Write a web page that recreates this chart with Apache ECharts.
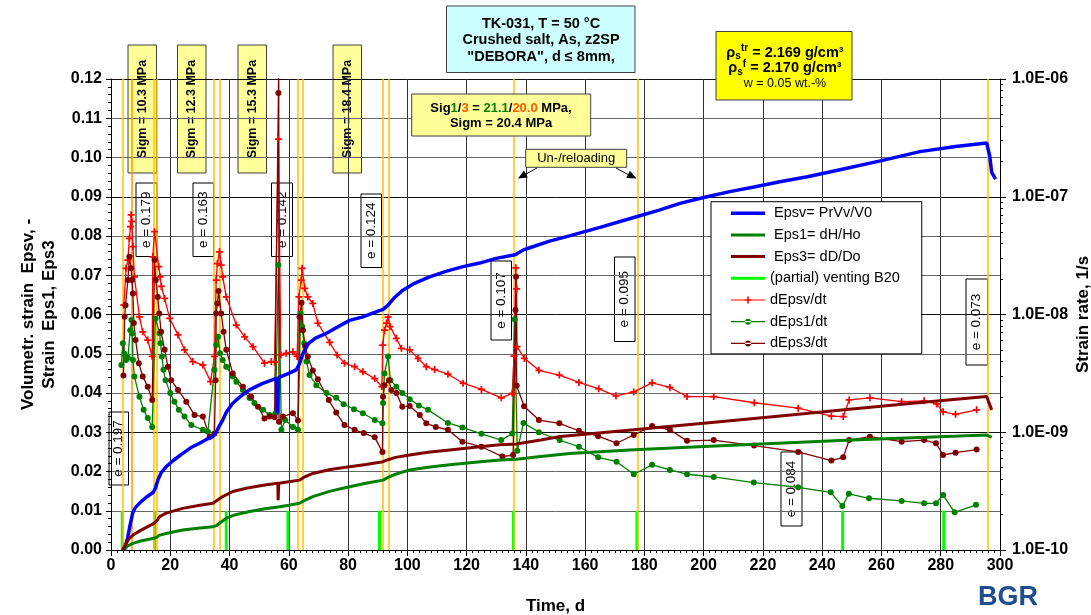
<!DOCTYPE html>
<html>
<head>
<meta charset="utf-8">
<script src="https://cdn.jsdelivr.net/npm/echarts@6/dist/echarts.min.js"></script>
<style>
  html, body { margin: 0; padding: 0; background: #fff; }
  #chart { width: 1091px; height: 615px; }
</style>
</head>
<body>
<div id="chart"></div>
<script>
const FONT = 'Arial, "Liberation Sans", sans-serif';

// ---- Strain curves: [time d, strain -] ----
const epsv = [[4.0,0],[4.8,0.001],[5.6,0.003],[6.4,0.0062],[7.3,0.0094],[8.2,0.0108],[10,0.0122],[12,0.0135],[14.3,0.0147],[15.0,0.0158],[15.8,0.0178],[17,0.0198],[18.6,0.0212],[21,0.0228],[24.2,0.0246],[27,0.0261],[29.9,0.0272],[32,0.0281],[34.4,0.0289],[35.5,0.0300],[36.5,0.0315],[37.7,0.0331],[39,0.0352],[41.1,0.0374],[43.5,0.0390],[46.7,0.0408],[51,0.0424],[55.8,0.0437],[56.2,0.0348],[56.5,0.0439],[60,0.0450],[62.5,0.0459],[63.5,0.0472],[64.8,0.0501],[66.5,0.0525],[69,0.0540],[72.7,0.0552],[76,0.0566],[80.5,0.0585],[85,0.0594],[88.5,0.0604],[91.8,0.0613],[93.5,0.0624],[95.5,0.0642],[98.5,0.0662],[102,0.0678],[107.5,0.0696],[113,0.0710],[118.8,0.0722],[124.4,0.0731],[130,0.0743],[136.4,0.0752],[139,0.0764],[141.3,0.0770],[148,0.0787],[155,0.0801],[165,0.0822],[177.3,0.0849],[185,0.0866],[192,0.0883],[200,0.0898],[208.8,0.0913],[217,0.0925],[225.7,0.0938],[235,0.0951],[246,0.0969],[260,0.0992],[273,0.1015],[285,0.1028],[295.5,0.1037],[296.5,0.1005],[297.2,0.0962],[298.5,0.0945]];

const eps1 = [[4.5,0],[5.5,0.001],[7.4,0.0017],[10,0.0023],[14.5,0.0030],[15.5,0.0033],[16.5,0.0038],[18.6,0.0042],[24.2,0.0051],[30,0.0056],[34.4,0.0059],[35.5,0.0062],[36.6,0.0068],[38.9,0.0081],[42,0.0090],[46.8,0.0098],[52,0.0105],[56.9,0.0110],[60,0.0114],[63.6,0.0119],[65,0.0125],[68.1,0.0136],[74,0.0150],[80.5,0.0161],[86,0.0170],[91.8,0.0178],[93.5,0.0185],[96,0.0193],[100.8,0.0204],[107,0.0211],[114.3,0.0217],[122,0.0223],[131.2,0.0229],[136.8,0.0231],[145,0.0238],[154.8,0.0246],[175,0.0255],[200,0.0264],[225,0.0272],[250,0.0280],[275,0.0287],[295.5,0.0293],[297.2,0.0287]];

const eps3 = [[4.0,0],[5,0.0015],[6,0.0028],[7.4,0.0038],[10,0.0050],[14.5,0.0068],[15.5,0.0075],[16.4,0.0085],[18.6,0.0094],[24.2,0.0106],[30,0.0114],[34.4,0.0119],[35.5,0.0125],[37.7,0.0136],[41.1,0.0149],[46,0.0158],[52.4,0.0166],[56.3,0.0170],[56.4,0.0127],[56.6,0.0170],[60,0.0174],[63.6,0.0178],[65,0.0185],[68.1,0.0195],[74,0.0205],[80.5,0.0212],[86,0.0218],[91.8,0.0225],[93.5,0.0230],[96,0.0236],[100.8,0.0242],[107,0.0249],[114.3,0.0255],[122,0.0261],[131.2,0.0268],[136.8,0.0270],[145,0.0280],[151.6,0.0289],[160,0.0295],[180,0.0309],[200,0.0323],[225,0.0341],[250,0.0359],[275,0.0377],[295.5,0.0391],[297.2,0.0357]];

// ---- Partial venting of B20: day of each event and bar height ----
const ventDays = [3.8, 14.7, 38.9, 59.7, 90.6, 135.8, 177.5, 246.9, 281.0];
const ventHeight = 0.01;

// ---- Strain rates: [time d, rate 1/s] ----
const dEpsv = [[4.3,1.20e-8],[5.1,2.47e-8],[5.7,2.90e-8],[6.2,4.44e-8],[6.6,5.58e-8],[6.8,7.03e-8],[7.0,6.17e-8],[7.4,3.78e-8],[7.9,2.09e-8],[9.6,9.55e-9],[10.7,7.13e-9],[12.4,6.07e-9],[13.9,4.40e-9],
  [14.1,3.09e-8],[14.7,5.05e-8],[16.1,2.55e-8],[16.6,2.09e-8],[17.0,1.73e-8],[18.1,1.37e-8],[19.8,9.27e-9],[22.6,6.71e-9],[24.8,5.01e-9],[27.6,3.98e-9],[31.0,3.72e-9],[33.6,2.69e-9],
  [34.9,4.40e-9],[35.5,1.96e-8],[35.9,2.71e-8],[36.6,3.41e-8],[37.2,2.63e-8],[37.7,2.09e-8],[38.9,1.41e-8],[42.3,8.13e-9],[45.1,6.46e-9],[47.9,5.33e-9],[51.8,3.86e-9],[54.1,3.98e-9],[55.2,3.95e-9],
  [56.5,3.09e-7],[57.3,4.53e-9],[59.1,4.68e-9],[61.4,4.82e-9],[62.8,4.40e-9],
  [63.4,1.41e-8],[64.2,1.96e-8],[64.5,2.47e-8],[65.4,1.67e-8],[66.4,1.41e-8],[68.1,1.24e-8],[69.8,8.45e-9],[73.8,5.80e-9],[76.3,4.53e-9],[78.8,3.86e-9],[82.2,3.60e-9],[85.0,3.26e-9],[89.0,2.86e-9],[91.4,2.44e-9],
  [91.7,5.50e-9],[92.3,7.36e-9],[93.0,8.45e-9],[93.5,9.48e-9],[94.2,7.89e-9],[96.3,6.27e-9],[98.0,5.16e-9],[100.8,5.01e-9],[103.6,4.24e-9],[106.4,3.60e-9],[109.2,3.41e-9],[113.7,3.11e-9],[118.8,2.61e-9],[125.0,2.31e-9],[131.7,1.96e-9],[135.4,2.14e-9],
  [136.0,4.43e-9],[136.6,2.49e-8],[136.9,1.65e-8],[137.0,5.33e-9],[139.5,4.24e-9],[144.4,3.36e-9],[151.3,3.06e-9],[157.9,2.65e-9],[164.6,2.34e-9],[170.4,2.04e-9],[176.4,2.20e-9],[182.6,2.63e-9],[188.6,2.40e-9],[194.4,2.01e-9],[203.4,2.01e-9],[217.1,1.78e-9],[231.9,1.60e-9],[243.1,1.37e-9],[247.1,1.36e-9],[249.1,1.88e-9],[256.1,1.96e-9],[266.8,1.82e-9],[274.4,1.85e-9],[278.6,1.74e-9],[280.8,1.49e-9],[285.0,1.42e-9],[292.1,1.55e-9]];

const dEps1 = [[3.5,3.72e-9],[4.0,5.71e-9],[4.5,4.64e-9],[5.1,4.10e-9],[5.7,4.30e-9],[6.5,7.36e-9],[6.9,8.98e-9],[7.2,6.92e-9],[7.4,4.10e-9],[7.9,2.97e-9],[9.6,2.00e-9],[11.0,1.55e-9],[12.4,1.32e-9],[13.9,1.11e-9],
  [15.0,9.27e-9],[16.4,6.92e-9],[16.7,5.71e-9],[17.2,4.40e-9],[17.7,3.39e-9],[18.4,2.77e-9],[20.0,2.15e-9],[21.4,1.82e-9],[22.9,1.55e-9],[24.8,1.36e-9],[27.1,1.15e-9],[31.0,1.05e-9],[32.7,1.01e-9],
  [34.9,3.39e-9],[35.5,5.50e-9],[36.1,6.46e-9],[36.8,4.68e-9],[37.7,4.10e-9],[38.9,3.60e-9],[41.1,2.97e-9],[42.3,2.69e-9],[44.5,2.29e-9],[46.8,1.95e-9],[48.4,1.77e-9],[51.3,1.55e-9],[53.5,1.40e-9],[55.5,1.45e-9],
  [56.5,2.63e-8],[57.5,1.05e-9],[58.8,1.27e-9],[61.4,1.11e-9],[63.1,1.05e-9],
  [64.0,1.02e-8],[64.5,7.89e-9],[65.2,5.71e-9],[66.0,3.98e-9],[67.0,3.06e-9],[69.3,2.51e-9],[72.7,2.15e-9],[76.0,1.96e-9],[78.5,1.73e-9],[82.0,1.57e-9],[85.0,1.45e-9],[89.0,1.27e-9],[91.6,1.19e-9],
  [91.8,1.77e-9],[92.3,3.16e-9],[93.5,4.40e-9],[94.3,2.77e-9],[96.3,2.44e-9],[98.3,2.15e-9],[100.8,1.91e-9],[103.9,1.69e-9],[107.0,1.55e-9],[113.7,1.20e-9],[118.6,1.10e-9],[125.0,9.70e-10],[131.7,8.58e-10],[135.4,9.77e-10],
  [136.2,9.12e-9],[137.1,6.97e-10],[139.2,1.20e-9],[144.4,1.00e-9],[151.4,8.58e-10],[157.9,7.53e-10],[164.4,6.12e-10],[170.6,5.62e-10],[176.4,4.40e-10],[182.6,5.29e-10],[188.6,4.79e-10],[194.4,4.40e-10],[203.4,4.17e-10],[216.9,3.74e-10],[231.9,3.41e-10],[242.9,3.09e-10],[246.8,2.36e-10],[249.0,3.00e-10],[255.8,2.75e-10],[266.8,2.61e-10],[274.4,2.49e-10],[278.4,2.49e-10],[280.8,2.93e-10],[284.7,2.09e-10],[291.9,2.42e-10]];

const dEps3 = [[4.2,3.04e-9],[4.6,9.55e-9],[4.9,1.20e-8],[5.7,1.96e-8],[6.2,3.09e-8],[6.8,2.47e-8],[7.1,1.96e-8],[7.4,1.51e-8],[7.7,8.45e-9],[8.3,6.07e-9],[9.4,3.86e-9],[10.7,2.97e-9],[12.4,2.44e-9],[13.9,1.88e-9],
  [14.7,2.90e-8],[15.1,1.96e-8],[15.8,1.41e-8],[16.3,1.02e-8],[16.9,7.13e-9],[18.1,5.01e-9],[19.2,3.60e-9],[20.3,2.77e-9],[22.6,2.29e-9],[25.4,1.82e-9],[28.2,1.40e-9],[31.0,1.36e-9],[33.3,9.18e-10],
  [34.9,9.77e-10],[35.3,2.77e-9],[35.5,1.02e-8],[35.9,1.24e-8],[36.3,1.58e-8],[37.2,1.02e-8],[38.0,7.13e-9],[38.9,5.01e-9],[41.1,3.16e-9],[44.5,2.44e-9],[47.3,2.00e-9],[49.6,1.65e-9],[51.8,1.31e-9],[53.5,1.36e-9],[55.2,1.34e-9],
  [56.5,7.6e-7],[56.6,1.5e-6],[56.7,1.23e-9],[58.0,1.36e-9],[61.4,1.45e-9],[63.1,1.26e-9],
  [63.6,9.55e-9],[64.3,1.26e-8],[64.8,7.36e-9],[65.5,5.41e-9],[66.4,4.40e-9],[68.1,3.34e-9],[69.8,2.82e-9],[73.5,1.88e-9],[76.0,1.47e-9],[78.8,1.15e-9],[82.2,1.05e-9],[85.3,9.85e-10],[89.0,9.05e-10],[91.6,6.81e-10],
  [91.8,2.00e-9],[92.3,2.51e-9],[93.8,2.77e-9],[94.6,2.29e-9],[96.3,2.15e-9],[98.3,1.65e-9],[100.8,1.67e-9],[104.2,1.40e-9],[106.4,1.19e-9],[109.6,1.11e-9],[113.7,1.05e-9],[118.6,8.32e-10],[125.0,7.53e-10],[132.1,6.21e-10],[135.7,6.41e-10],
  [136.5,1.09e-8],[136.7,2.09e-8],[136.9,2.49e-9],[139.4,1.66e-9],[144.4,1.27e-9],[151.3,1.19e-9],[157.9,1.03e-9],[164.4,9.27e-10],[170.6,8.07e-10],[176.4,9.48e-10],[182.6,1.13e-9],[188.6,1.05e-9],[194.4,8.45e-10],[203.4,8.58e-10],[217.0,7.70e-10],[231.9,6.81e-10],[243.1,5.75e-10],[247.1,6.12e-10],[249.1,8.58e-10],[256.1,9.18e-10],[266.8,8.32e-10],[274.4,8.58e-10],[278.4,8.07e-10],[280.8,6.41e-10],[285.0,6.71e-10],[292.1,7.13e-10]];

// ---- Load-step markers (days) ----
const stepDays = [3.8, 14.5, 15.5, 34.7, 36.6, 62.9, 64.8, 91.8, 93.7, 136.0, 177.6, 295.7];
const unloadDays = [7.1];

// ---- Annotation texts ----
const sigmLabels = ['Sigm = 10.3 MPa', 'Sigm = 12.3 MPa', 'Sigm = 15.3 MPa', 'Sigm = 18.4 MPa'];
const porosityLabels = ['e = 0.197', 'e = 0.179', 'e = 0.163', 'e = 0.142', 'e = 0.124', 'e = 0.107', 'e = 0.095', 'e = 0.084', 'e = 0.073'];
const titleLines = ['TK-031, T = 50 °C', 'Crushed salt, As, z2SP', '"DEBORA", d ≤ 8mm,'];

// minor tick positions of the log axis (in decades)
const logMinor = [];
for (let n = -10; n < -6; n++) for (let k = 2; k <= 9; k++) logMinor.push(n + Math.log10(k));

function rateLabel(v) {
  const e = Math.round(Math.log10(v));
  return '1.0E' + (e < 0 ? '-' : '+') + String(Math.abs(e)).padStart(2, '0');
}

// venting bars drawn as separate vertical segments
const ventData = [];
ventDays.forEach(d => { ventData.push([d, 0], [d, ventHeight], [d, null]); });

const PLUS = 'path://M3,0H5V3H8V5H5V8H3V5H0V3H3Z';

// legend glyphs: plain bars for the strain curves, thin line + marker for the rates
const ICON_THICK = 'path://M0,0H34V3.5H0Z';
const ICON_BAR3 = 'path://M0,0H34V3H0Z';
const ICON_DOT = 'path://M0,4.35H34V5.65H0Z M14,5A3,3 0 1,0 20,5A3,3 0 1,0 14,5Z';
const ICON_PLUS = 'path://M0,4.4H34V5.6H0Z M16.2,1.5H17.8V4.2H20.5V5.8H17.8V8.5H16.2V5.8H13.5V4.2H16.2Z';

// ---- graphic helpers ----
function vBox(x, y, w, h, text, fill, stroke, font) {
  return {
    type: 'group', z: 100,
    children: [
      { type: 'rect', shape: { x: x, y: y, width: w, height: h }, style: { fill: fill, stroke: stroke, lineWidth: 1 } },
      { type: 'text', x: x + w / 2, y: y + h / 2, rotation: Math.PI / 2,
        style: { text: text, font: font, fill: '#000', align: 'center', verticalAlign: 'middle' } }
    ]
  };
}
function hText(x, y, text, font, extra) {
  return Object.assign({ type: 'text', x: x, y: y, z: 101,
    style: Object.assign({ text: text, font: font, fill: '#000', align: 'center', verticalAlign: 'middle' }, extra || {}) });
}
function rect(x, y, w, h, fill, stroke) {
  return { type: 'rect', z: 100, shape: { x: x, y: y, width: w, height: h }, style: { fill: fill, stroke: stroke || '#404040', lineWidth: 1 } };
}

const BOLD13 = 'bold 12.5px ' + FONT;
const sigmPos = [128, 177.5, 238, 333];
const ePos = [[109, 412, 19.5, 73], [136, 183, 21, 73.5], [193, 183, 20.5, 73.5], [271.5, 183, 21, 73.5], [361, 194, 20.5, 73.5],
  [491, 261, 20.5, 79], [614.5, 257, 20.5, 84.5], [781, 452, 21, 74], [966, 279, 21.5, 86]];

const graphics = [];
sigmPos.forEach((x, i) => graphics.push(vBox(x, 45, 28.5, 128, sigmLabels[i], '#FFFF99', '#404040', BOLD13)));
ePos.forEach((p, i) => graphics.push(vBox(p[0], p[1], p[2], p[3], porosityLabels[i], '#FFFFFF', '#000', '13.5px ' + FONT)));

// test description
graphics.push(rect(446.5, 6, 188.5, 66.5, '#CCFFFF'));
titleLines.forEach((t, i) => graphics.push(hText(541, 23.5 + i * 16.7, t, 'bold 14.5px ' + FONT)));

// densities
graphics.push(rect(716, 31.5, 136, 68.5, '#FFFF00'));
const rhoRich = {
  b: { font: 'bold 14.5px ' + FONT, fill: '#000', lineHeight: 18 },
  sub: { font: 'bold 10px ' + FONT, fill: '#000', lineHeight: 10, verticalAlign: 'bottom' },
  sup: { font: 'bold 10px ' + FONT, fill: '#000', lineHeight: 10, verticalAlign: 'top' }
};
graphics.push(hText(785, 52.5, '{b|ρ}{sub|s}{sup|tr}{b| = 2.169 g/cm³}', 'bold 14.5px ' + FONT, { rich: rhoRich }));
graphics.push(hText(785, 68, '{b|ρ}{sub|s}{sup|f}{b| = 2.170 g/cm³}', 'bold 14.5px ' + FONT, { rich: rhoRich }));
graphics.push(hText(785, 84, 'w = 0.05 wt.-%', '12.5px ' + FONT));

// stress state
graphics.push(rect(411.7, 94, 179, 42, '#FFFF99'));
graphics.push(hText(501, 108.5, '{n|Sig}{g|1}{n|/}{o|3}{n| = }{g|21.1}{n|/}{o|20.0}{n| MPa,}', 'bold 13px ' + FONT, {
  rich: {
    n: { font: 'bold 13px ' + FONT, fill: '#000' },
    g: { font: 'bold 13px ' + FONT, fill: '#008000' },
    o: { font: 'bold 13px ' + FONT, fill: '#FF5A00' }
  }
}));
graphics.push(hText(501, 123, 'Sigm = 20.4 MPa', 'bold 13px ' + FONT));

// un-/reloading note with arrows
graphics.push(rect(525.7, 149.3, 101, 18, '#FFFF99'));
graphics.push(hText(576.2, 158.5, 'Un-/reloading', '13px ' + FONT));
graphics.push({ type: 'line', z: 100, shape: { x1: 537, y1: 168, x2: 524, y2: 175 }, style: { stroke: '#000', lineWidth: 1 } });
graphics.push({ type: 'polygon', z: 100, shape: { points: [[518, 178.5], [527.8, 177.6], [524, 170.6]] }, style: { fill: '#000' } });
graphics.push({ type: 'line', z: 100, shape: { x1: 616, y1: 168, x2: 629, y2: 175 }, style: { stroke: '#000', lineWidth: 1 } });
graphics.push({ type: 'polygon', z: 100, shape: { points: [[636.5, 178.5], [626.2, 177.9], [629.9, 170.8]] }, style: { fill: '#000' } });

// institute mark
graphics.push(hText(1008, 598, 'BGR', '900 27px ' + FONT, { fill: '#1F4E8F' }));

const axisLabelStyle = { color: '#000', fontSize: 16, fontWeight: 'bold', fontFamily: FONT };
const axisNameStyle = { color: '#000', fontSize: 17, fontWeight: 'bold', fontFamily: FONT, lineHeight: 21 };

const chart = echarts.init(document.getElementById('chart'));
chart.setOption({
  animation: false,
  backgroundColor: '#fff',
  grid: { left: 111, right: 91, top: 79, bottom: 65, containLabel: false, outerBoundsMode: 'none' },
  legend: {
    orient: 'vertical', left: 711, top: 201.7,
    data: [
      { name: ' Epsv= PrVv/V0', icon: ICON_THICK },
      { name: ' Eps1= dH/Ho', icon: ICON_BAR3 },
      { name: ' Eps3= dD/Do', icon: ICON_BAR3 },
      { name: '(partial) venting B20', icon: ICON_BAR3 },
      { name: 'dEpsv/dt', icon: ICON_PLUS },
      { name: 'dEps1/dt', icon: ICON_DOT },
      { name: 'dEps3/dt', icon: ICON_DOT }
    ],
    itemWidth: 34, itemHeight: 14, itemGap: 6.7,
    padding: [4, 22, 3, 20],
    backgroundColor: '#fff', borderColor: '#000', borderWidth: 1, borderRadius: 0,
    textStyle: { color: '#000', fontSize: 14.5, fontFamily: FONT },
    selectedMode: false
  },
  xAxis: {
    type: 'value', min: 0, max: 300, interval: 20,
    name: 'Time, d', nameLocation: 'middle', nameGap: 46, nameTextStyle: axisNameStyle, nameMoveOverlap: false,
    axisLine: { lineStyle: { color: '#000', width: 1 } },
    axisTick: { length: 6, lineStyle: { color: '#000' } },
    minorTick: { show: true, splitNumber: 10, length: 3, lineStyle: { color: '#000' } },
    splitLine: { show: true, lineStyle: { color: '#333', width: 1 } },
    axisLabel: Object.assign({ margin: 8 }, axisLabelStyle)
  },
  yAxis: [
    {
      type: 'value', min: 0, max: 0.12, interval: 0.01, position: 'left',
      name: 'Volumetr. strain  Epsv, -\nStrain  Eps1, Eps3', nameLocation: 'middle', nameRotate: 90, nameGap: 51,
      nameTextStyle: axisNameStyle, nameMoveOverlap: false,
      axisLine: { show: true, lineStyle: { color: '#000', width: 1 } },
      axisTick: { show: true, length: 5, lineStyle: { color: '#000' } },
      minorTick: { show: true, splitNumber: 5, length: 3, lineStyle: { color: '#000' } },
      splitLine: { show: true, lineStyle: { color: '#666', width: 1 } },
      axisLabel: Object.assign({ margin: 9, formatter: v => v.toFixed(2) }, axisLabelStyle)
    },
    {
      type: 'log', logBase: 10, min: 1e-10, max: 1e-6, position: 'right',
      name: 'Strain rate, 1/s', nameLocation: 'middle', nameRotate: 90, nameGap: 73,
      nameTextStyle: axisNameStyle, nameMoveOverlap: false,
      axisLine: { show: true, lineStyle: { color: '#000', width: 1 } },
      axisTick: { show: true, length: 6, lineStyle: { color: '#000' } },
      splitLine: { show: true, lineStyle: { color: '#111', width: 1 } },
      axisLabel: Object.assign({ margin: 12, formatter: rateLabel }, axisLabelStyle)
    },
    {
      // log minor ticks of the strain-rate axis
      type: 'value', min: -10, max: -6, position: 'right', offset: 0,
      axisLine: { show: false }, axisLabel: { show: false }, splitLine: { show: false },
      axisTick: { show: true, length: 3, customValues: logMinor, lineStyle: { color: '#000' } }
    }
  ],
  series: [
    {
      name: 'steps', type: 'line', data: [], z: 1, silent: true,
      markLine: {
        silent: true, symbol: ['none', 'none'], label: { show: false },
        data: stepDays.map(d => ({ xAxis: d, lineStyle: { color: '#FFC000', width: 1.5, type: 'solid' } }))
          .concat(unloadDays.map(d => ({ xAxis: d, lineStyle: { color: '#FF9900', width: 1.5, type: 'solid' } })))
      }
    },
    {
      name: '(partial) venting B20', type: 'line', data: ventData, yAxisIndex: 0, z: 4,
      symbol: 'none', connectNulls: false, color: '#00FF00',
      lineStyle: { color: '#00FF00', width: 3 }
    },
    {
      name: 'dEpsv/dt', type: 'line', data: dEpsv, yAxisIndex: 1, z: 5,
      symbol: PLUS, symbolSize: 7, color: '#FF0000',
      itemStyle: { color: '#FF0000' }, lineStyle: { color: '#FF0000', width: 1.3 }
    },
    {
      name: 'dEps1/dt', type: 'line', data: dEps1, yAxisIndex: 1, z: 5,
      symbol: 'circle', symbolSize: 6, color: '#008000',
      itemStyle: { color: '#008000' }, lineStyle: { color: '#008000', width: 1.3 }
    },
    {
      name: 'dEps3/dt', type: 'line', data: dEps3, yAxisIndex: 1, z: 5,
      symbol: 'circle', symbolSize: 6, color: '#800000',
      itemStyle: { color: '#800000' }, lineStyle: { color: '#800000', width: 1.3 }
    },
    {
      name: ' Epsv= PrVv/V0', type: 'line', data: epsv, yAxisIndex: 0, z: 6,
      symbol: 'none', color: '#0000FF', lineStyle: { color: '#0000FF', width: 3.5 }
    },
    {
      name: ' Eps1= dH/Ho', type: 'line', data: eps1, yAxisIndex: 0, z: 6,
      symbol: 'none', color: '#008000', lineStyle: { color: '#008000', width: 3 }
    },
    {
      name: ' Eps3= dD/Do', type: 'line', data: eps3, yAxisIndex: 0, z: 6,
      symbol: 'none', color: '#800000', lineStyle: { color: '#800000', width: 3 }
    }
  ],
  graphic: graphics
});
</script>
</body>
</html>
